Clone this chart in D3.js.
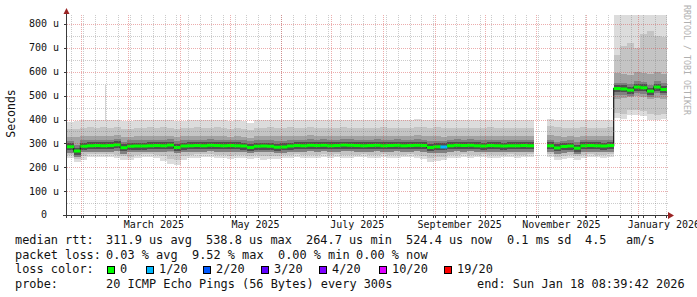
<!DOCTYPE html>
<html>
<head>
<meta charset="utf-8">
<script src="https://cdn.jsdelivr.net/npm/d3@7"></script>
<style>
  body { margin: 0; background: #fff; }
  text { font-family: "DejaVu Sans Mono", monospace; }
</style>
</head>
<body>
<svg width="697" height="297"></svg>
<script>
// time range of the graph, one bucket = 4 days
let start = new Date(2025, 0, 23, 8, 39, 42)
let end = new Date(2026, 0, 18, 8, 39, 42)
let bucketDays = 4

// median rtt per bucket (us)
let med = [
  286, 268, 288, 290, 291, 290, 291, 294, 282, 288,
  289, 289, 290, 291, 290, 293, 283, 289, 290, 291,
  290, 292, 291, 290, 291, 290, 289, 283, 288, 289,
  288, 284, 285, 289, 291, 290, 292, 291, 292, 290,
  291, 293, 292, 291, 290, 291, 292, 290, 291, 292,
  290, 291, 292, 291, 283, 286, 285, 290, 292, 291,
  292, 290, 289, 291, 290, 289, 290, 290, 291, 290,
  null, null, 290, 281, 287, 289, 280, 290, 291, 290,
  289, 291, 530, 528, 523, 536, 533, 519, 536, 526
]

// smoke: spread of the 20 pings per bucket (us)
let hi = [
  388, 392, 398, 398, 396, 398, 397, 398, 395, 392,
  396, 398, 399, 397, 398, 396, 392, 395, 398, 400,
  397, 398, 399, 396, 394, 398, 392, 385, 396, 398,
  399, 397, 398, 399, 396, 398, 400, 397, 398, 396,
  398, 399, 397, 396, 398, 397, 396, 399, 398, 397,
  398, 396, 401, 399, 398, 400, 396, 397, 398, 396,
  397, 398, 396, 399, 397, 398, 396, 397, 398, 397,
  null, null, 403, 400, 396, 398, 397, 399, 398, 397,
  398, 399, 840, 840, 840, 840, 840, 840, 840, 840
]
let p90 = [
  360, 362, 366, 368, 365, 367, 366, 368, 362, 360,
  364, 366, 368, 366, 367, 364, 360, 363, 366, 368,
  365, 366, 368, 364, 362, 366, 360, 356, 364, 366,
  368, 365, 366, 368, 364, 366, 369, 365, 366, 364,
  366, 368, 365, 364, 366, 365, 364, 368, 366, 365,
  366, 364, 370, 368, 366, 368, 363, 365, 366, 364,
  365, 366, 364, 368, 365, 366, 364, 365, 366, 365,
  null, null, 372, 368, 364, 366, 365, 368, 366, 365,
  366, 368, 670, 710, 720, 700, 760, 770, 750, 745
]
let q3 = [
  326, 328, 332, 333, 331, 332, 331, 334, 327, 326,
  330, 331, 333, 331, 332, 330, 326, 329, 331, 333,
  330, 332, 333, 330, 328, 331, 326, 322, 329, 331,
  332, 330, 331, 333, 330, 331, 334, 330, 332, 330,
  331, 333, 331, 330, 332, 331, 330, 333, 331, 330,
  332, 330, 334, 332, 330, 332, 328, 330, 331, 330,
  331, 332, 330, 333, 331, 332, 330, 331, 332, 331,
  null, null, 335, 330, 328, 331, 328, 332, 331, 330,
  331, 333, 595, 590, 585, 600, 595, 590, 600, 592
]
let q1 = [
  268, 254, 266, 271, 272, 271, 270, 271, 264, 266,
  270, 271, 272, 270, 268, 262, 258, 268, 270, 271,
  272, 271, 270, 269, 268, 270, 268, 264, 268, 267,
  268, 266, 268, 270, 271, 270, 271, 270, 272, 271,
  270, 272, 271, 270, 271, 272, 270, 271, 272, 270,
  271, 272, 270, 269, 262, 265, 264, 270, 271, 272,
  271, 270, 272, 271, 270, 271, 272, 270, 271, 272,
  null, null, 272, 264, 268, 270, 262, 270, 271, 272,
  271, 272, 485, 490, 495, 500, 495, 485, 490, 488
]
let p10 = [
  250, 236, 246, 254, 256, 255, 254, 252, 246, 245,
  252, 255, 254, 251, 246, 236, 230, 248, 252, 254,
  255, 254, 253, 251, 249, 252, 250, 246, 250, 246,
  248, 249, 252, 251, 254, 253, 251, 252, 254, 252,
  254, 252, 251, 253, 255, 252, 251, 254, 252, 251,
  253, 255, 251, 249, 238, 242, 244, 251, 253, 255,
  252, 253, 255, 252, 251, 253, 254, 252, 253, 255,
  null, null, 256, 244, 249, 252, 246, 252, 254, 253,
  252, 254, 428, 424, 438, 440, 435, 422, 420, 425
]
let lo = [
  238, 222, 232, 242, 244, 243, 242, 240, 232, 230,
  240, 243, 242, 238, 226, 214, 210, 232, 238, 240,
  242, 241, 240, 238, 236, 240, 238, 234, 238, 232,
  235, 236, 240, 238, 242, 240, 238, 240, 241, 239,
  242, 240, 238, 241, 243, 240, 238, 242, 240, 239,
  241, 243, 238, 236, 222, 228, 230, 238, 240, 242,
  239, 241, 243, 240, 238, 241, 242, 240, 242, 244,
  null, null, 245, 230, 236, 240, 232, 240, 242, 241,
  240, 242, 405, 402, 418, 420, 415, 400, 398, 402
]

// single outlier ping
let spikeDates = [new Date(2025, 1, 15, 3, 0, 0)]
let spikeValues = [545]

// buckets with packet loss (lost pings of 20)
let lossBuckets = [56]
let lossPings = [1]

let lossLabels = ['0', '1/20', '2/20', '3/20', '4/20', '10/20', '19/20']
let lossColors = ['#00ff00', '#00b8ff', '#0059ff', '#5e00ff', '#7e00ff', '#dd00ff', '#ff0000']

let yTicks = [0, 100, 200, 300, 400, 500, 600, 700, 800]
let yTickLabels = ['0  ', '100 u', '200 u', '300 u', '400 u', '500 u', '600 u', '700 u', '800 u']
let monthLabels = ['March 2025', 'May 2025', 'July 2025', 'September 2025', 'November 2025', 'January 2026']
let monthLabelDates = [new Date(2025, 2, 1), new Date(2025, 4, 1), new Date(2025, 6, 1),
  new Date(2025, 8, 1), new Date(2025, 10, 1), new Date(2026, 0, 1)]

let legendRtt = [['median rtt:', 15], ['311.9 us avg', 106], ['538.8 us max', 206], ['264.7 us min', 306],
  ['524.4 us now', 406], ['0.1 ms sd', 507], ['4.5', 585], ['am/s', 626]]
let legendLoss = [['packet loss:', 15], ['0.03 % avg', 106], ['9.52 % max', 192], ['0.00 % min', 278],
  ['0.00 % now', 356]]
let legendSwatchX = [107, 146, 203, 261, 319, 379, 444]
let legendProbe = [['probe:', 15], ['20 ICMP Echo Pings (56 Bytes) every 300s', 106],
  ['end: Sun Jan 18 08:39:42 2026', 477]]

let pl = 67, pr = 667, pt = 15, pb = 215

let x = d3.scaleTime().domain([start, end]).range([pl, pr])
let y = d3.scaleLinear().domain([0, 838]).range([pb, pt])

let svg = d3.select('svg')
svg.append('rect').attr('width', 697).attr('height', 297).attr('fill', '#fff')

svg.append('clipPath').attr('id', 'plot')
  .append('rect').attr('x', pl).attr('y', pt).attr('width', pr - pl).attr('height', pb - pt)

let buckets = med.map((m, i) => {
  let li = lossBuckets.indexOf(i)
  let lost = li < 0 ? 0 : lossPings[li]
  let ci = lost <= 4 ? lost : (lost <= 10 ? 5 : 6)
  return {
    i: i, med: m, lo: lo[i], p10: p10[i], q1: q1[i], q3: q3[i], p90: p90[i], hi: hi[i],
    x0: x(d3.timeDay.offset(start, i * bucketDays)),
    x1: Math.min(pr, x(d3.timeDay.offset(start, (i + 1) * bucketDays))),
    color: lossColors[ci]
  }
}).filter(d => d.med != null)

let graph = svg.append('g').attr('clip-path', 'url(#plot)')

// outlier spike
graph.selectAll('.spike')
  .data(spikeDates)
  .enter()
  .append('rect')
  .attr('x', d => Math.round(x(d)))
  .attr('width', 1)
  .attr('y', (d, i) => y(spikeValues[i]))
  .attr('height', (d, i) => y(250) - y(spikeValues[i]))
  .attr('fill', '#d4d4d4')

// smoke layers
let layers = [['lo', 'hi', '#dcdcdc'], ['p10', 'p90', '#c4c4c4'], ['q1', 'q3', '#a2a2a2']]
layers.forEach(l => {
  graph.append('g')
    .selectAll('rect')
    .data(buckets)
    .enter()
    .append('rect')
    .attr('x', d => d.x0)
    .attr('width', d => d.x1 - d.x0 + 0.4)
    .attr('y', d => y(d[l[1]]))
    .attr('height', d => y(d[l[0]]) - y(d[l[1]]))
    .attr('fill', l[2])
    .attr('shape-rendering', 'crispEdges')
})

// dark core around the median
let cores = [[6, '#808080'], [3.5, '#505050']]
cores.forEach(c => {
  graph.append('g')
    .selectAll('rect')
    .data(buckets)
    .enter()
    .append('rect')
    .attr('x', d => d.x0)
    .attr('width', d => d.x1 - d.x0 + 0.4)
    .attr('y', d => y(d.med) - c[0])
    .attr('height', c[0] * 2)
    .attr('fill', c[1])
    .attr('shape-rendering', 'crispEdges')
})

// grid (dotted)
let grid = svg.append('g').attr('shape-rendering', 'crispEdges')
let minorY = d3.range(50, 838, 50)
grid.selectAll('.hmin')
  .data(minorY)
  .enter()
  .append('line')
  .attr('x1', pl).attr('x2', pr + 1)
  .attr('y1', d => Math.round(y(d)) + 0.5).attr('y2', d => Math.round(y(d)) + 0.5)
  .attr('stroke', d => d % 100 === 0 ? 'rgba(210,60,60,0.42)' : 'rgba(120,120,120,0.38)')
  .attr('stroke-dasharray', '1,1')

let weeks = d3.timeSunday.range(start, end)
let months = d3.timeMonth.range(start, end)
grid.selectAll('.vmin')
  .data(weeks)
  .enter()
  .append('line')
  .attr('x1', d => Math.round(x(d)) + 0.5).attr('x2', d => Math.round(x(d)) + 0.5)
  .attr('y1', pt).attr('y2', pb)
  .attr('stroke', 'rgba(120,120,120,0.38)')
  .attr('stroke-dasharray', '1,1')
grid.selectAll('.vmaj')
  .data(months)
  .enter()
  .append('line')
  .attr('x1', d => Math.round(x(d)) + 0.5).attr('x2', d => Math.round(x(d)) + 0.5)
  .attr('y1', pt).attr('y2', pb)
  .attr('stroke', 'rgba(210,60,60,0.42)')
  .attr('stroke-dasharray', '1,1')

// median line: thin dark connector, then loss coloured segments
let path = d3.path()
buckets.forEach((b, k) => {
  let prev = buckets[k - 1]
  if (prev && prev.i === b.i - 1) path.lineTo(b.x0, y(b.med))
  else path.moveTo(b.x0, y(b.med))
  path.lineTo(b.x1, y(b.med))
})
graph.append('path')
  .attr('d', path.toString())
  .attr('fill', 'none')
  .attr('stroke', '#1a1a1a')
  .attr('stroke-width', 1.2)

graph.append('g')
  .selectAll('rect')
  .data(buckets)
  .enter()
  .append('rect')
  .attr('x', d => d.x0)
  .attr('width', d => d.x1 - d.x0 + 0.4)
  .attr('y', d => y(d.med) - 1.5)
  .attr('height', 3)
  .attr('fill', d => d.color)

// axes
let axis = svg.append('g').attr('shape-rendering', 'crispEdges')
axis.append('line')
  .attr('x1', 63).attr('x2', 668).attr('y1', pb + 0.5).attr('y2', pb + 0.5)
  .attr('stroke', '#3a3a3a')
axis.append('line')
  .attr('x1', pl - 0.5).attr('x2', pl - 0.5).attr('y1', 12).attr('y2', pb + 3)
  .attr('stroke', '#3a3a3a')
axis.selectAll('.xt')
  .data(weeks.concat(months))
  .enter()
  .append('line')
  .attr('x1', d => Math.round(x(d)) + 0.5).attr('x2', d => Math.round(x(d)) + 0.5)
  .attr('y1', pb).attr('y2', pb + 3)
  .attr('stroke', '#3a3a3a')
axis.selectAll('.yt')
  .data(yTicks)
  .enter()
  .append('line')
  .attr('x1', pl - 3).attr('x2', pl)
  .attr('y1', d => Math.round(y(d)) + 0.5).attr('y2', d => Math.round(y(d)) + 0.5)
  .attr('stroke', '#3a3a3a')

svg.append('path')
  .attr('d', 'M668,212L674,215.5L668,219Z')
  .attr('fill', '#9a2424')
svg.append('path')
  .attr('d', 'M63.5,14L66.5,8L69.5,14Z')
  .attr('fill', '#9a2424')

// tick labels
svg.selectAll('.yl')
  .data(yTicks)
  .enter()
  .append('text')
  .attr('x', 59)
  .attr('y', d => y(d))
  .attr('dy', '0.34em')
  .attr('text-anchor', 'end')
  .attr('font-size', 10)
  .attr('fill', '#111')
  .attr('xml:space', 'preserve')
  .style('white-space', 'pre')
  .text((d, i) => yTickLabels[i])

svg.selectAll('.xl')
  .data(monthLabelDates)
  .enter()
  .append('text')
  .attr('x', d => (x(d) + x(d3.timeMonth.offset(d, 1))) / 2)
  .attr('y', 228)
  .attr('text-anchor', 'middle')
  .attr('font-size', 10)
  .attr('fill', '#111')
  .text((d, i) => monthLabels[i])

svg.append('text')
  .attr('transform', 'translate(15,113.5) rotate(-90)')
  .attr('text-anchor', 'middle')
  .attr('font-size', 11.5)
  .attr('fill', '#111')
  .text('Seconds')

svg.append('text')
  .attr('transform', 'translate(684,5) rotate(90)')
  .attr('font-size', 8.3)
  .attr('fill', '#b0b0b0')
  .text('RRDTOOL / TOBI OETIKER')

// legend
let legend = svg.append('g').attr('font-size', 11.9).attr('fill', '#111')
let row = (items, yy) => {
  legend.selectAll(null)
    .data(items)
    .enter()
    .append('text')
    .attr('x', d => d[1])
    .attr('y', yy)
    .text(d => d[0])
}
row(legendRtt, 244)
row(legendLoss, 258.6)
row([['loss color:', 15]], 273.2)
row(legendProbe, 287.8)

legend.selectAll('.sw')
  .data(lossColors)
  .enter()
  .append('rect')
  .attr('x', (d, i) => legendSwatchX[i] + 0.5)
  .attr('y', 266.5)
  .attr('width', 7)
  .attr('height', 7)
  .attr('fill', d => d)
  .attr('stroke', '#000')
  .attr('shape-rendering', 'crispEdges')
legend.selectAll('.swl')
  .data(lossLabels)
  .enter()
  .append('text')
  .attr('x', (d, i) => legendSwatchX[i] + 13)
  .attr('y', 273.2)
  .text(d => d)
</script>
</body>
</html>
